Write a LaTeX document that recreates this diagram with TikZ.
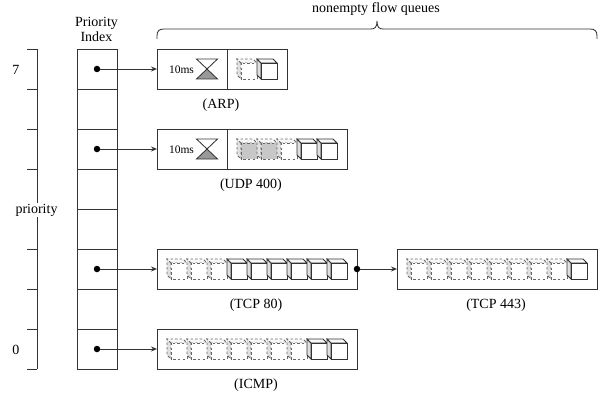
\documentclass[tikz,border=0pt]{standalone}
\usepackage{fontspec}
\setmainfont{Liberation Serif}
\usetikzlibrary{arrows.meta}
\definecolor{linec}{gray}{0.2}
\definecolor{dashc}{gray}{0.4}
\definecolor{grayc}{gray}{0.78}
\definecolor{sidec}{gray}{0.88}
\definecolor{topc}{gray}{0.97}
\definecolor{sandc}{gray}{0.6}
\tikzset{
  box/.style={draw=linec,line width=0.85pt,fill=white},
  lbl/.style={font=\fontsize{14}{15}\selectfont,text=black,inner sep=0pt},
  smalllbl/.style={font=\fontsize{11.5}{13}\selectfont,text=black,inner sep=0pt},
  solidq/.style={draw=linec,line width=0.85pt,fill=white},
  emptyq/.style={draw=dashc,line width=0.8pt,dash pattern=on 2.4pt off 2.2pt,fill=white},
  grayq/.style={draw=dashc,line width=0.8pt,dash pattern=on 2.4pt off 2.2pt,fill=grayc},
  ptr/.style={draw=linec,line width=0.85pt,-{Stealth[length=6pt,width=5pt]}},
  dotn/.style={circle,fill=black,inner sep=0pt,minimum size=6.5pt}
}
\newcommand{\qcube}[3]{%
  \begin{scope}[shift={(#1,-#2)}]
    \path[#3,fill=sidec] (0,0) -- (-4,4) -- (-4,-12) -- (0,-16) -- cycle;
    \path[#3,fill=topc] (0,0) -- (-4,4) -- (12,4) -- (16,0) -- cycle;
    \path[#3] (0,0) rectangle (16,-16);
  \end{scope}}
\newcommand{\hglass}[2]{%
  \draw[linec,line width=0.85pt,fill=sandc] (#1,-#2) -- (#1+10.5,-#2+10) -- (#1+21,-#2) -- cycle;
  \draw[linec,line width=0.85pt,fill=white] (#1,-#2+20) -- (#1+21,-#2+20) -- (#1+10.5,-#2+10) -- cycle;
}
\begin{document}
\begin{tikzpicture}[x=1pt,y=1pt]
\useasboundingbox (0,-396) rectangle (608,0);
\draw[linec,line width=0.85pt] (37,-49) -- (37,-369);
\foreach \yy in {49,89,...,369} \draw[linec,line width=0.85pt] (27,-\yy) -- (37,-\yy);
\node[lbl] (l7) at (16,-70) {7};
\node[lbl] (l0) at (16,-350) {0};
\node[lbl,fill=white,inner sep=0.5pt] (lp) at (36.5,-210) {priority};
\node[lbl,align=center] (idx) at (96.5,-29.5) {Priority\\Index};
\foreach \ii in {0,...,7}
  \node[box,minimum width=40pt,minimum height=40pt,inner sep=0pt,anchor=north west] (c\ii) at (77,-49-\ii*40) {};
\node[box,minimum width=130pt,minimum height=40pt,anchor=north west,inner sep=0pt] (arp) at (157,-49) {};
\node[box,minimum width=190pt,minimum height=40pt,anchor=north west,inner sep=0pt] (udp) at (157,-129) {};
\node[box,minimum width=200pt,minimum height=40pt,anchor=north west,inner sep=0pt] (t80) at (157,-249) {};
\node[box,minimum width=200pt,minimum height=40pt,anchor=north west,inner sep=0pt] (t443) at (397,-249) {};
\node[box,minimum width=200pt,minimum height=40pt,anchor=north west,inner sep=0pt] (icmp) at (157,-329) {};
\draw[linec,line width=0.85pt] (227,-49) -- (227,-89) (227,-129) -- (227,-169);
\node[lbl] (larp) at (221,-105) {(ARP)};
\node[lbl] (ludp) at (251,-185) {(UDP 400)};
\node[lbl] (lt80) at (256,-305) {(TCP 80)};
\node[lbl] (lt443) at (496,-305) {(TCP 443)};
\node[lbl] (licmp) at (256,-385) {(ICMP)};
\node[smalllbl] (t1) at (181.5,-70) {10ms};
\node[smalllbl] (t2) at (181.5,-150) {10ms};
\hglass{196.5}{79}
\hglass{196.5}{159}
\node[dotn] (d7) at (97,-69) {};
\node[dotn] (d5) at (97,-149) {};
\node[dotn] (d2) at (97,-269) {};
\node[dotn] (d0) at (97,-349) {};
\node[dotn] (d80) at (357,-269) {};
\draw[ptr] (d7) -- (arp.west |- d7);
\draw[ptr] (d5) -- (udp.west |- d5);
\draw[ptr] (d2) -- (t80.west |- d2);
\draw[ptr] (d0) -- (icmp.west |- d0);
\draw[ptr] (d80) -- (t443.west |- d80);
\qcube{241}{63}{emptyq}
\qcube{261}{63}{solidq}
\qcube{241}{143}{grayq}
\qcube{261}{143}{grayq}
\qcube{281}{143}{emptyq}
\qcube{301}{143}{solidq}
\qcube{321}{143}{solidq}
\foreach \ii in {0,1,2} {\qcube{171+20*\ii}{263}{emptyq}}
\foreach \ii in {3,...,8} {\qcube{171+20*\ii}{263}{solidq}}
\foreach \ii in {0,...,7} {\qcube{411+20*\ii}{263}{emptyq}}
\qcube{571}{263}{solidq}
\foreach \ii in {0,...,6} {\qcube{171+20*\ii}{343}{emptyq}}
\foreach \ii in {7,8} {\qcube{171+20*\ii}{343}{solidq}}
\draw[linec,line width=0.85pt] (157,-39) -- (157,-36) .. controls (157,-31) and (159,-29) .. (164,-29) -- (371,-29) .. controls (375,-29) and (377,-27) .. (377,-21) .. controls (377,-27) and (379,-29) .. (383,-29) -- (590,-29) .. controls (595,-29) and (597,-31) .. (597,-36) -- (597,-39);
\node[lbl] (lq) at (376,-9) {nonempty flow queues};
\end{tikzpicture}
\end{document}
